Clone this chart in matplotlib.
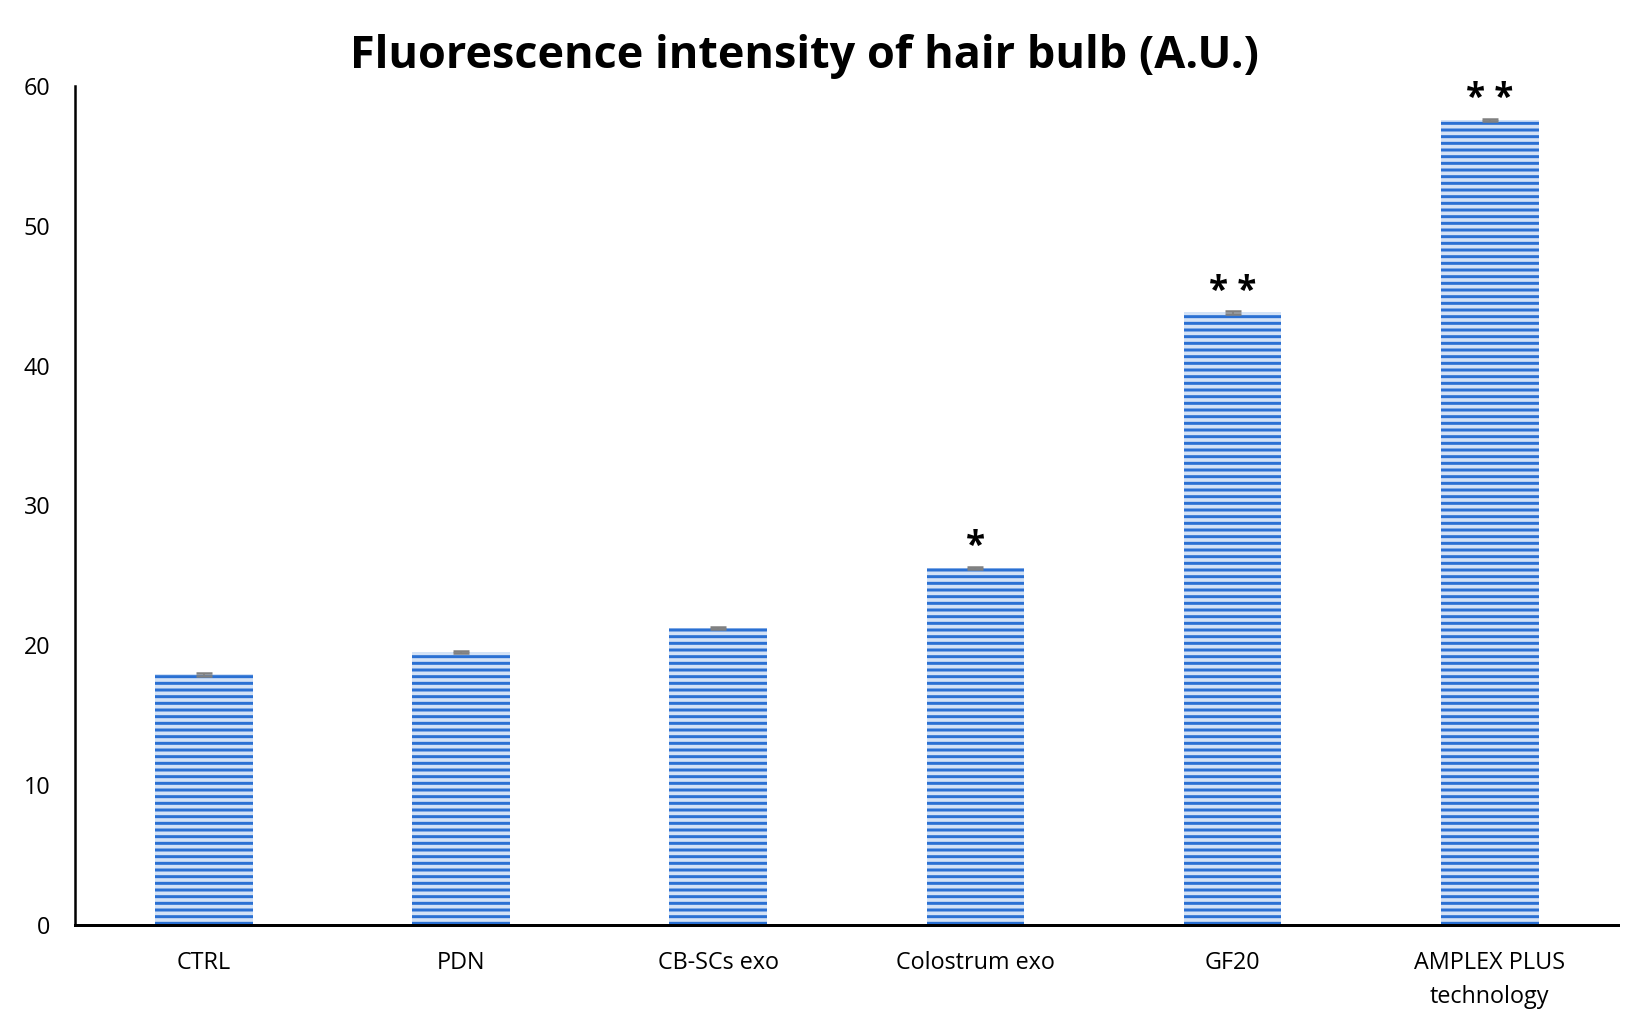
import matplotlib.pyplot as plt
import numpy as np

plt.rcParams['font.family'] = ['Open Sans', 'DejaVu Sans']
plt.rcParams['hatch.linewidth'] = 1.8

categories = ['CTRL', 'PDN', 'CB-SCs exo', 'Colostrum exo', 'GF20', 'AMPLEX PLUS\ntechnology']
values = [17.9, 19.5, 21.2, 25.5, 43.8, 57.6]
errors = [0.08, 0.08, 0.08, 0.08, 0.08, 0.08]
stars = ['', '', '', '*', '* *', '* *']
yticks = [0, 10, 20, 30, 40, 50, 60]

bar_face = '#d3e2f6'
bar_stripe = '#2a70d3'

fig = plt.figure(figsize=(1638/120, 1025/120), dpi=120)
ax = fig.add_axes([0.046, 0.098, 0.942, 0.818])

x = np.arange(len(categories))
ax.bar(x, values, width=0.38, color=bar_face, edgecolor=bar_stripe, linewidth=0, hatch='---', zorder=2)
ax.errorbar(x, values, yerr=errors, fmt='none', ecolor='#808080', elinewidth=1, capsize=5, capthick=1.5, zorder=3)

for xi, v, s in zip(x, values, stars):
    if s:
        ax.text(xi, v + 0.2, s, ha='center', va='bottom', fontsize=21, fontweight='bold', color='black')

ax.set_xlim(-0.5, len(categories) - 0.5)
ax.set_ylim(0, 60)
ax.set_yticks(yticks)
ax.set_xticks(x)
ax.set_xticklabels(categories, fontsize=14, linespacing=1.55)
ax.tick_params(axis='y', length=0, pad=15, labelsize=14)
ax.tick_params(axis='x', length=0, pad=16)

for side in ['top', 'right']:
    ax.spines[side].set_visible(False)
ax.spines['left'].set_linewidth(1.5)
ax.spines['bottom'].set_linewidth(1.8)

fig.text(0.491, 0.945, 'Fluorescence intensity of hair bulb (A.U.)', ha='center', va='center',
         fontsize=27, fontweight='bold')

fig.savefig('out.png', dpi=120)
